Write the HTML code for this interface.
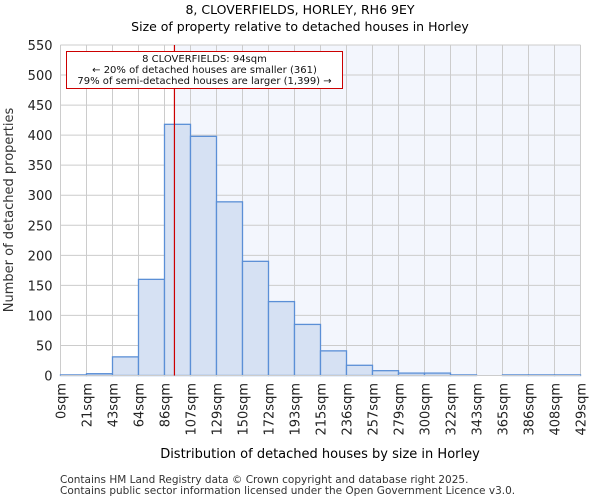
<!DOCTYPE html>
<html><head><meta charset="utf-8"><style>
body{margin:0;background:#fff;font-family:"DejaVu Sans","Liberation Sans",sans-serif;}
svg text{font-family:"DejaVu Sans","Liberation Sans",sans-serif;}
</style></head><body>
<svg id="c" width="600" height="500" xmlns="http://www.w3.org/2000/svg">
<text x="300" y="14" font-size="12.5" text-anchor="middle">8, CLOVERFIELDS, HORLEY, RH6 9EY</text>
<text x="300" y="31" font-size="12.5" text-anchor="middle">Size of property relative to detached houses in Horley</text>
<text x="320" y="458" font-size="13" text-anchor="middle">Distribution of detached houses by size in Horley</text>
<text transform="translate(13,210) rotate(-90)" font-size="13" text-anchor="middle" fill="#333">Number of detached properties</text>
<text x="60" y="483" font-size="10.5" fill="#333">Contains HM Land Registry data © Crown copyright and database right 2025.</text>
<text x="60" y="494" font-size="10.5" fill="#333">Contains public sector information licensed under the Open Government Licence v3.0.</text>
<g id="plot"></g>
</svg>
<script>
const binLabels=["0sqm","21sqm","43sqm","64sqm","86sqm","107sqm","129sqm","150sqm","172sqm","193sqm","215sqm","236sqm","257sqm","279sqm","300sqm","322sqm","343sqm","365sqm","386sqm","408sqm","429sqm"];
const counts=[1,3,31,160,418,398,289,190,123,85,41,17,8,4,4,1,0,1,1,1];
const yTicks=[0,50,100,150,200,250,300,350,400,450,500,550];
const propertySize=94;
const maxSize=429;
const NS="http://www.w3.org/2000/svg";
const L=60.5,R=580.5,T=45,B=375.5,yMax=550;
const g=document.getElementById('plot');
const xb=i=>L+i*(R-L)/counts.length;
const xs=v=>L+v/maxSize*(R-L);
const ys=v=>B-v/yMax*(B-T);
function mk(t,a,p){const e=document.createElementNS(NS,t);for(const k in a)e.setAttribute(k,a[k]);(p||g).appendChild(e);return e;}
const px=xs(propertySize);
const bg=mk('rect',{x:px,y:T,width:R-px,height:B-T,fill:'#f3f6fd'});


yTicks.forEach(v=>{
  const l=mk('line',{x1:L,x2:R,y1:ys(v),y2:ys(v),stroke:'#ccc','stroke-width':1});
  
  
  const t=mk('text',{x:L-8,y:ys(v)+5,'font-size':13,'text-anchor':'end',fill:'#222'});
  t.textContent=v;
  
  
});
binLabels.forEach((lab,i)=>{
  const x=xb(i);
  const l=mk('line',{x1:x,x2:x,y1:T,y2:B,stroke:'#ccc','stroke-width':1});
  
  
  const t=mk('text',{transform:`translate(${x+5},383) rotate(-90)`,'font-size':13,'text-anchor':'end',fill:'#222'});
  t.textContent=lab;
  
  
});
counts.forEach((c,i)=>{
  const r=mk('rect',{x:xb(i),y:ys(c),width:xb(i+1)-xb(i),height:B-ys(c),fill:'#d6e1f3',stroke:'#5b8fd6','stroke-width':1.3});
  
  
});
const ax=mk('line',{x1:L,x2:R,y1:B,y2:B,stroke:'#ccc'});


const ml=mk('line',{x1:px,x2:px,y1:T,y2:B,stroke:'#cc0000','stroke-width':1.2});


const box=mk('g',{});


mk('rect',{x:66.5,y:51.5,width:276,height:37,fill:'#fff',stroke:'#cc0000','stroke-width':1},box);
[["8 CLOVERFIELDS: 94sqm",62],["← 20% of detached houses are smaller (361)",73],["79% of semi-detached houses are larger (1,399) →",84]].forEach(([s,y])=>{
  const t=mk('text',{x:204.5,y:y,'font-size':10,'text-anchor':'middle',fill:'#111'},box);
  t.textContent=s;
  
  
});
</script>
</body></html>
